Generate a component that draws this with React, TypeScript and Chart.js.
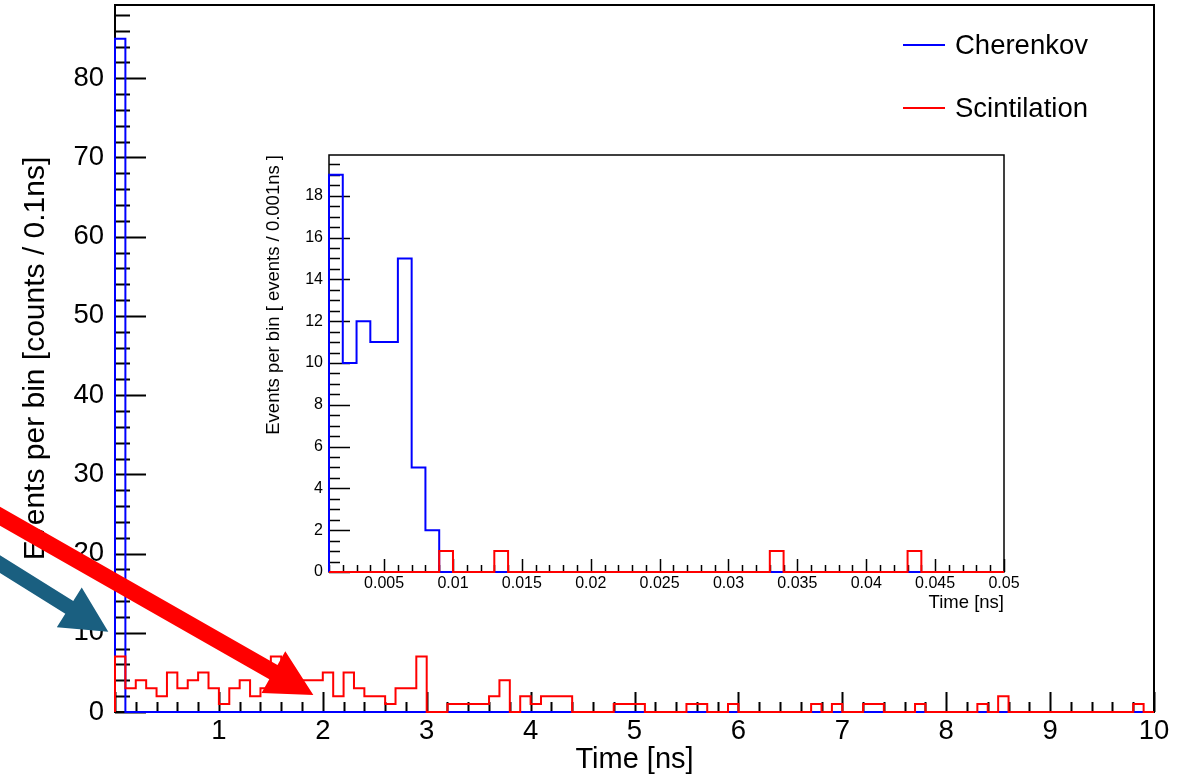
import React, { useEffect, useRef } from 'react';
import { Chart, registerables } from 'chart.js';

Chart.register(...registerables);

const FONT = "'Liberation Sans', Arial, Helvetica, sans-serif";

// ---------------- Main histogram: 100 bins of 0.1 ns from 0 to 10 ns ----------------
const mainBinLow = 0;
const mainBinWidth = 0.1;

const cherenkovMain = [
  85, 0, 0, 0, 0, 0, 0, 0, 0, 0,
  0, 0, 0, 0, 0, 0, 0, 0, 0, 0,
  0, 0, 0, 0, 0, 0, 0, 0, 0, 0,
  0, 0, 0, 0, 0, 0, 0, 0, 0, 0,
  0, 0, 0, 0, 0, 0, 0, 0, 0, 0,
  0, 0, 0, 0, 0, 0, 0, 0, 0, 0,
  0, 0, 0, 0, 0, 0, 0, 0, 0, 0,
  0, 0, 0, 0, 0, 0, 0, 0, 0, 0,
  0, 0, 0, 0, 0, 0, 0, 0, 0, 0,
  0, 0, 0, 0, 0, 0, 0, 0, 0, 0,
];

const scintillationMain = [
  7, 3, 4, 3, 2, 5, 3, 4, 5, 3,
  1, 3, 4, 2, 3, 7, 4, 3, 4, 4,
  5, 2, 5, 3, 2, 2, 1, 3, 3, 7,
  0, 0, 1, 1, 1, 1, 2, 4, 0, 2,
  1, 2, 2, 2, 0, 0, 0, 0, 1, 1,
  1, 0, 0, 0, 0, 1, 1, 0, 0, 1,
  0, 0, 0, 0, 0, 0, 0, 1, 0, 1,
  0, 0, 1, 1, 0, 0, 0, 1, 0, 0,
  0, 0, 0, 1, 0, 2, 0, 0, 0, 0,
  0, 0, 0, 0, 0, 0, 0, 0, 1, 0,
];

const mainXMin = 0;
const mainXMax = 10;
const mainYMax = 89.25;
const mainXTicks = [1, 2, 3, 4, 5, 6, 7, 8, 9, 10];
const mainYTicks = [0, 10, 20, 30, 40, 50, 60, 70, 80];

// ---------------- Inset histogram: 49 bins of 0.001 ns from 0.001 to 0.05 ns ----------------
const insetBinLow = 0.001;
const insetBinWidth = 0.001;

const cherenkovInset = [
  19, 10, 12, 11, 11, 15, 5, 2, 0, 0,
  0, 0, 0, 0, 0, 0, 0, 0, 0, 0,
  0, 0, 0, 0, 0, 0, 0, 0, 0, 0,
  0, 0, 0, 0, 0, 0, 0, 0, 0, 0,
  0, 0, 0, 0, 0, 0, 0, 0, 0,
];

const scintillationInset = [
  0, 0, 0, 0, 0, 0, 0, 0, 1, 0,
  0, 0, 1, 0, 0, 0, 0, 0, 0, 0,
  0, 0, 0, 0, 0, 0, 0, 0, 0, 0,
  0, 0, 1, 0, 0, 0, 0, 0, 0, 0,
  0, 0, 1, 0, 0, 0, 0, 0, 0,
];

const insetXMin = 0.001;
const insetXMax = 0.05;
const insetYMax = 19.95;
const insetXTicks = [0.005, 0.01, 0.015, 0.02, 0.025, 0.03, 0.035, 0.04, 0.045, 0.05];
const insetYTicks = [0, 2, 4, 6, 8, 10, 12, 14, 16, 18];

const seriesLabels = ['Cherenkov', 'Scintilation'];
const seriesColors = ['#0000ff', '#ff0000'];

// Annotation arrows, in main-plot data coordinates
const arrowColors = ['#1a5f80', '#ff0000'];
const arrowTails = [
  { x: -1.3, y: 20.26 },
  { x: -1.3, y: 26.17 },
];
const arrowTips = [
  { x: -0.0645, y: 10.14 },
  { x: 1.909, y: 2.15 },
];

// ---------------- helpers ----------------
function histPoints(values: number[], low: number, width: number) {
  const r = (v: number) => Math.round(v * 1e7) / 1e7;
  const pts: { x: number; y: number }[] = [{ x: r(low), y: 0 }];
  values.forEach((v, i) => {
    pts.push({ x: r(low + i * width), y: v });
    pts.push({ x: r(low + (i + 1) * width), y: v });
  });
  pts.push({ x: r(low + values.length * width), y: 0 });
  return pts;
}

function stepValues(min: number, max: number, step: number) {
  const out: number[] = [];
  const n = Math.floor((max - min) / step + 1e-6);
  for (let i = 0; i <= n; i++) out.push(Math.round((min + i * step) * 1e7) / 1e7);
  return out;
}

function isMultiple(v: number, m: number) {
  const q = v / m;
  return Math.abs(q - Math.round(q)) < 1e-6;
}

function zeroPadding(s: any) {
  s.paddingTop = 0;
  s.paddingBottom = 0;
  s.paddingLeft = 0;
  s.paddingRight = 0;
}

type FrameSpec = {
  frameWidth: number;
  tickWidth: number;
  xMinorStart: number;
  xMinor: number;
  xMajor: number;
  xMajorLen: number;
  xMinorLen: number;
  yMinor: number;
  yMajor: number;
  yMajorLen: number;
  yMinorLen: number;
};

function framePlugin(spec: FrameSpec) {
  return {
    id: 'rootFrame',
    beforeDatasetsDraw(chart: any) {
      const { ctx, chartArea: a, scales } = chart;
      const x = scales.x;
      const y = scales.y;
      ctx.save();
      ctx.strokeStyle = '#000';
      ctx.lineWidth = spec.frameWidth;
      ctx.strokeRect(a.left, a.top, a.right - a.left, a.bottom - a.top);
      ctx.lineWidth = spec.tickWidth;
      ctx.beginPath();
      for (const v of stepValues(spec.xMinorStart, x.max, spec.xMinor)) {
        const px = Math.round(x.getPixelForValue(v)) + 0.5;
        const len = isMultiple(v, spec.xMajor) ? spec.xMajorLen : spec.xMinorLen;
        ctx.moveTo(px, a.bottom);
        ctx.lineTo(px, a.bottom - len);
      }
      for (const v of stepValues(y.min, y.max, spec.yMinor)) {
        const py = Math.round(y.getPixelForValue(v)) + 0.5;
        const len = isMultiple(v, spec.yMajor) ? spec.yMajorLen : spec.yMinorLen;
        ctx.moveTo(a.left, py);
        ctx.lineTo(a.left + len, py);
      }
      ctx.stroke();
      ctx.restore();
    },
  };
}

const legendPlugin = {
  id: 'rootLegend',
  afterDatasetsDraw(chart: any) {
    const { ctx } = chart;
    ctx.save();
    chart.data.datasets.forEach((ds: any, i: number) => {
      const y = 45 + i * 63;
      ctx.strokeStyle = ds.borderColor;
      ctx.lineWidth = 2;
      ctx.beginPath();
      ctx.moveTo(903, y);
      ctx.lineTo(945, y);
      ctx.stroke();
      ctx.fillStyle = '#000';
      ctx.font = `27.5px ${FONT}`;
      ctx.textBaseline = 'middle';
      ctx.textAlign = 'left';
      ctx.fillText(ds.label, 955, y + 1);
    });
    ctx.restore();
  },
};

const arrowPlugin = {
  id: 'arrows',
  afterDraw(chart: any) {
    const { ctx, scales } = chart;
    const sx = scales.x;
    const sy = scales.y;
    const specs = [
      { shaft: 15, headLen: 46, headW: 47 },
      { shaft: 16.5, headLen: 46, headW: 48 },
    ];
    ctx.save();
    arrowTails.forEach((t, i) => {
      const tip = arrowTips[i];
      const x0 = sx.getPixelForValue(t.x);
      const y0 = sy.getPixelForValue(t.y);
      const x1 = sx.getPixelForValue(tip.x);
      const y1 = sy.getPixelForValue(tip.y);
      const dx = x1 - x0;
      const dy = y1 - y0;
      const L = Math.hypot(dx, dy);
      const ux = dx / L;
      const uy = dy / L;
      const nx = -uy;
      const ny = ux;
      const { shaft, headLen, headW } = specs[i];
      const bx = x1 - ux * headLen;
      const by = y1 - uy * headLen;
      ctx.fillStyle = arrowColors[i];
      ctx.beginPath();
      ctx.moveTo(x0 + nx * shaft / 2, y0 + ny * shaft / 2);
      ctx.lineTo(bx + nx * shaft / 2, by + ny * shaft / 2);
      ctx.lineTo(bx + nx * headW / 2, by + ny * headW / 2);
      ctx.lineTo(x1, y1);
      ctx.lineTo(bx - nx * headW / 2, by - ny * headW / 2);
      ctx.lineTo(bx - nx * shaft / 2, by - ny * shaft / 2);
      ctx.lineTo(x0 - nx * shaft / 2, y0 - ny * shaft / 2);
      ctx.closePath();
      ctx.fill();
    });
    ctx.restore();
  },
};

function histDatasets(cher: number[], scint: number[], low: number, width: number, lw: number) {
  return [
    {
      label: seriesLabels[0],
      data: histPoints(cher, low, width),
      borderColor: seriesColors[0],
      borderWidth: lw,
      pointRadius: 0,
      fill: false,
      tension: 0,
      clip: false as any,
      order: 1,
    },
    {
      label: seriesLabels[1],
      data: histPoints(scint, low, width),
      borderColor: seriesColors[1],
      borderWidth: lw,
      pointRadius: 0,
      fill: false,
      tension: 0,
      clip: false as any,
      order: 0,
    },
  ];
}

export default function App() {
  const mainRef = useRef<HTMLCanvasElement | null>(null);
  const insetRef = useRef<HTMLCanvasElement | null>(null);

  useEffect(() => {
    const mainChart = new Chart(mainRef.current as HTMLCanvasElement, {
      type: 'line',
      data: { datasets: histDatasets(cherenkovMain, scintillationMain, mainBinLow, mainBinWidth, 2) as any },
      options: {
        responsive: false,
        animation: false,
        devicePixelRatio: 1,
        events: [],
        parsing: false,
        layout: { padding: { left: 0, top: 5, right: 43, bottom: 0 } },
        plugins: { legend: { display: false }, tooltip: { enabled: false } },
        scales: {
          x: {
            type: 'linear',
            min: mainXMin,
            max: mainXMax,
            afterBuildTicks: (s: any) => {
              s.ticks = mainXTicks.map((v) => ({ value: v }));
            },
            afterFit: (s: any) => {
              s.height = 67;
              zeroPadding(s);
            },
            grid: { display: false, drawTicks: false },
            border: { display: false },
            ticks: {
              autoSkip: false,
              maxRotation: 0,
              minRotation: 0,
              padding: 3,
              color: '#000',
              font: { family: FONT, size: 27.5 },
              callback: (v: any) => String(v),
            },
            title: {
              display: true,
              text: 'Time [ns]',
              color: '#000',
              font: { family: FONT, size: 29 },
              padding: { top: 0, bottom: 2 },
            },
          },
          y: {
            type: 'linear',
            min: 0,
            max: mainYMax,
            afterBuildTicks: (s: any) => {
              s.ticks = mainYTicks.map((v) => ({ value: v }));
            },
            afterFit: (s: any) => {
              s.width = 115;
              zeroPadding(s);
            },
            grid: { display: false, drawTicks: false },
            border: { display: false },
            ticks: {
              padding: 11,
              color: '#000',
              font: { family: FONT, size: 27.5 },
              callback: (v: any) => String(v),
            },
            title: {
              display: true,
              text: 'Events per bin [counts / 0.1ns]',
              color: '#000',
              font: { family: FONT, size: 30 },
              padding: { top: 18, bottom: 0 },
            },
          },
        },
      } as any,
      plugins: [
        framePlugin({
          frameWidth: 2,
          tickWidth: 2,
          xMinorStart: mainXMin,
          xMinor: 0.2,
          xMajor: 1,
          xMajorLen: 20,
          xMinorLen: 10,
          yMinor: 2,
          yMajor: 10,
          yMajorLen: 31,
          yMinorLen: 15,
        }),
        legendPlugin,
        arrowPlugin,
      ],
    });

    const insetChart = new Chart(insetRef.current as HTMLCanvasElement, {
      type: 'line',
      data: { datasets: histDatasets(cherenkovInset, scintillationInset, insetBinLow, insetBinWidth, 2) as any },
      options: {
        responsive: false,
        animation: false,
        devicePixelRatio: 1,
        events: [],
        parsing: false,
        layout: { padding: { left: 0, top: 10, right: 21, bottom: 0 } },
        plugins: { legend: { display: false }, tooltip: { enabled: false } },
        scales: {
          x: {
            type: 'linear',
            min: insetXMin,
            max: insetXMax,
            afterBuildTicks: (s: any) => {
              s.ticks = insetXTicks.map((v) => ({ value: v }));
            },
            afterFit: (s: any) => {
              s.height = 43;
              zeroPadding(s);
            },
            grid: { display: false, drawTicks: false },
            border: { display: false },
            ticks: {
              autoSkip: false,
              maxRotation: 0,
              minRotation: 0,
              padding: 2,
              color: '#000',
              font: { family: FONT, size: 16 },
              callback: (v: any) => String(v),
            },
            title: {
              display: true,
              text: 'Time [ns]',
              align: 'end',
              color: '#000',
              font: { family: FONT, size: 18.5 },
              padding: { top: 0, bottom: 1 },
            },
          },
          y: {
            type: 'linear',
            min: 0,
            max: insetYMax,
            afterBuildTicks: (s: any) => {
              s.ticks = insetYTicks.map((v) => ({ value: v }));
            },
            afterFit: (s: any) => {
              s.width = 74;
              zeroPadding(s);
            },
            grid: { display: false, drawTicks: false },
            border: { display: false },
            ticks: {
              padding: 6,
              color: '#000',
              font: { family: FONT, size: 16 },
              callback: (v: any) => String(v),
            },
            title: {
              display: true,
              text: 'Events per bin [ events / 0.001ns ]',
              align: 'end',
              color: '#000',
              font: { family: FONT, size: 18.5 },
              padding: { top: 7.5, bottom: 0 },
            },
          },
        },
      } as any,
      plugins: [
        framePlugin({
          frameWidth: 1.5,
          tickWidth: 1.5,
          xMinorStart: insetXMin,
          xMinor: 0.001,
          xMajor: 0.005,
          xMajorLen: 13,
          xMinorLen: 7,
          yMinor: 0.5,
          yMajor: 2,
          yMajorLen: 21,
          yMinorLen: 11,
        }),
      ],
    });

    return () => {
      mainChart.destroy();
      insetChart.destroy();
    };
  }, []);

  return (
    <div style={{ position: 'absolute', left: 0, top: 0, width: 1197, height: 779, background: '#fff' }}>
      <canvas ref={mainRef} width={1197} height={779} style={{ position: 'absolute', left: 0, top: 0, display: 'block' }} />
      <canvas ref={insetRef} width={770} height={470} style={{ position: 'absolute', left: 255, top: 145, display: 'block' }} />
    </div>
  );
}
